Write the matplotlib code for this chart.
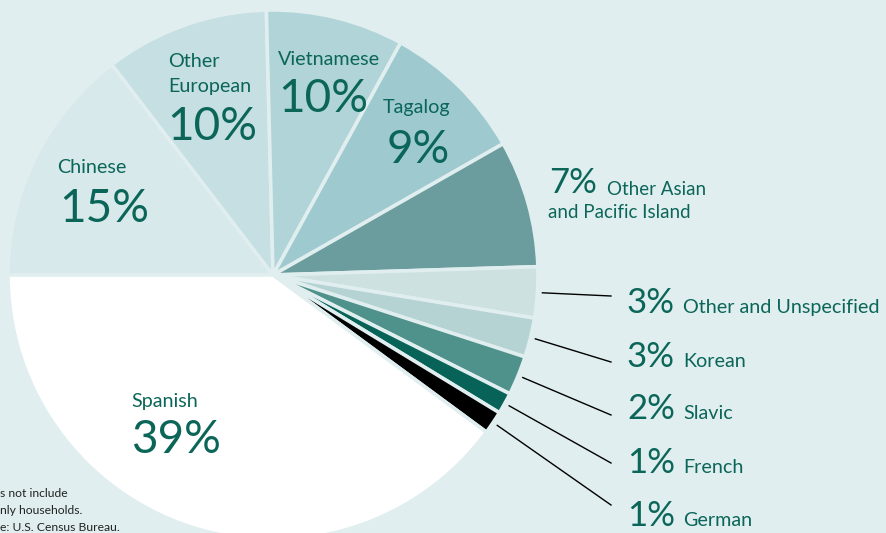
import matplotlib
matplotlib.use("Agg")
import matplotlib.pyplot as plt
import numpy as np

# ---- data ----
categories = ["Chinese", "Other European", "Vietnamese", "Tagalog",
              "Other Asian and Pacific Island", "Other and Unspecified",
              "Korean", "Slavic", "French", "German", "Spanish"]
# wedge shares (percent)
shares = [14.6, 10.0, 8.4, 8.75, 7.75, 3.1, 2.4, 2.4, 1.3, 1.4, 39.9]
# percentages as printed on the chart
pct_labels = ["15%", "10%", "10%", "9%", "7%", "3%", "3%", "2%", "1%", "1%", "39%"]
footnote = ["s not include", "nly households.", "e: U.S. Census Bureau."]

# ---- style ----
W, H = 887, 533
bg = "#e0eeef"
txt = "#0b6659"
colors = ["#d7e9eb", "#c5dfe2", "#b0d4d8", "#9ecacf", "#6b9c9e",
          "#cde2e0", "#b6d3d3", "#4f918b", "#076358", "#000000", "#ffffff"]
plt.rcParams["font.family"] = ["Lato", "DejaVu Sans"]

fig = plt.figure(figsize=(W / 100, H / 100), dpi=100, facecolor=bg)
ax = fig.add_axes([0, 0, 1, 1])
ax.set_facecolor(bg)

def Y(y):
    return H - y

cx, cy, R = 273, 275, 265
wedges, _ = ax.pie(shares, startangle=180, counterclock=False, colors=colors,
                   radius=R, center=(cx, Y(cy)),
                   wedgeprops=dict(edgecolor=bg, linewidth=2.6))
ax.set_xlim(0, W)
ax.set_ylim(0, H)
ax.set_aspect("equal")
ax.axis("off")

big = 33
small = 14.2

# interior labels
def inner(name, pct, x_name, y_name, x_pct, y_pct, ha="center"):
    ax.text(x_name, Y(y_name), name, ha=ha, va="baseline", fontsize=small, color=txt)
    ax.text(x_pct, Y(y_pct), pct, ha="center", va="baseline", fontsize=big, color=txt)

ax.text(168, Y(67), "Other", ha="left", va="baseline", fontsize=small, color=txt)
ax.text(168, Y(92), "European", ha="left", va="baseline", fontsize=small, color=txt)
ax.text(212, Y(140), pct_labels[1], ha="center", va="baseline", fontsize=big, color=txt)

inner(categories[0], pct_labels[0], 92, 173, 104, 222)
inner(categories[2], pct_labels[2], 329, 65, 323, 112)
inner(categories[3], pct_labels[3], 417, 113, 418, 163)
inner(categories[10], pct_labels[10], 165, 407, 176, 453)

# Other Asian label (outside, right)
ax.text(549, Y(193), pct_labels[4], ha="left", va="baseline", fontsize=25, color=txt)
ax.text(607, Y(195), "Other Asian", ha="left", va="baseline", fontsize=13.5, color=txt)
ax.text(548, Y(218), "and Pacific Island", ha="left", va="baseline", fontsize=13.5, color=txt)

# small slices with leader lines
baselines = [313, 367, 419, 473, 526]
line_end_y = [296, 362, 415, 463, 505]
for k, i in enumerate(range(5, 10)):
    w = wedges[i]
    mid = np.deg2rad((w.theta1 + w.theta2) / 2)
    x0 = cx + (R + 5) * np.cos(mid)
    y0 = Y(cy) + (R + 5) * np.sin(mid)
    ax.plot([x0, 611], [y0, Y(line_end_y[k])], color="black", lw=1.0)
    ax.text(627, Y(baselines[k]), pct_labels[i], ha="left", va="baseline",
            fontsize=25, color=txt)
    ax.text(683, Y(baselines[k]), categories[i], ha="left", va="baseline",
            fontsize=small, color=txt)

# footnote (cut off at the left edge, as in the source)
for j, line in enumerate(footnote):
    ax.text(0, Y(497 + 17 * j), line, ha="left", va="baseline", fontsize=8.7,
            color="#222222")

fig.savefig("out.png", dpi=100, facecolor=bg)
